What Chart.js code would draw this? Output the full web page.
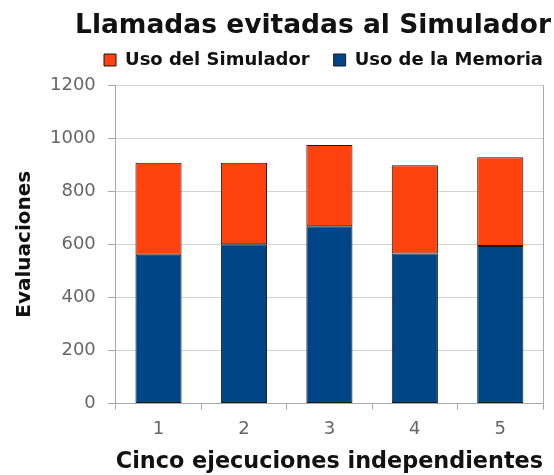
<!DOCTYPE html>
<html>
<head>
<meta charset="utf-8">
<script src="https://cdn.jsdelivr.net/npm/chart.js@4"></script>
<style>
  html, body { margin: 0; padding: 0; background: #fff; }
  #wrap { width: 554px; height: 475px; }
</style>
</head>
<body>
<div id="wrap"><canvas id="llamadas"></canvas></div>
<script>
const ejecuciones = ['1', '2', '3', '4', '5'];
const usoMemoria = [560, 600, 668, 565, 593];
const usoSimulador = [347, 307, 306, 333, 335];
const yTicks = [0, 200, 400, 600, 800, 1000, 1200];

const gris = '#a8a8a8';
const fam = '"DejaVu Sans", sans-serif';

// corre la leyenda un poco respecto a su caja
const ajusteLeyenda = {
  id: 'ajusteLeyenda',
  afterLayout(chart) {
    const lg = chart.legend;
    lg.left += 16; lg.right += 16; lg.top -= 6; lg.bottom -= 6;
  }
};

new Chart(document.getElementById('llamadas'), {
  type: 'bar',
  data: {
    labels: ejecuciones,
    datasets: [
      { label: 'Uso de la Memoria', data: usoMemoria, backgroundColor: '#004586', borderColor: '#1a1a1a', borderWidth: 1, borderSkipped: false, barPercentage: 0.54, categoryPercentage: 1 },
      { label: 'Uso del Simulador', data: usoSimulador, backgroundColor: '#ff420e', borderColor: '#1a1a1a', borderWidth: 1, borderSkipped: false, barPercentage: 0.54, categoryPercentage: 1 }
    ]
  },
  options: {
    responsive: true, maintainAspectRatio: false, animation: false,
    layout: { padding: { left: 3, right: 3, top: 0, bottom: 0 } },
    plugins: {
      title: { display: true, text: 'Llamadas evitadas al Simulador', align: 'end', color: '#111', font: { family: fam, size: 26.5, weight: 'bold' }, padding: { top: 10.5, bottom: -9.3 } },
      legend: { reverse: true, align: 'end', labels: { boxWidth: 12, boxHeight: 12, padding: 24, color: '#111', font: { family: fam, size: 18, weight: 'bold' } } },
      tooltip: { enabled: false }
    },
    scales: {
      x: {
        stacked: true,
        grid: { offset: true, drawOnChartArea: false, color: gris, tickLength: 6 },
        border: { color: gris },
        ticks: { color: '#666', font: { family: fam, size: 18 }, padding: 8.7 },
        title: { display: true, text: 'Cinco ejecuciones independientes', color: '#111', font: { family: fam, size: 22.5, weight: 'bold' }, padding: { top: 0.5, bottom: -1 } }
      },
      y: {
        stacked: true, min: 0, max: 1200,
        afterBuildTicks: ax => { ax.ticks = yTicks.map(v => ({ value: v })); },
        grid: { color: '#d2d2d2', tickColor: gris, tickLength: 8 },
        border: { color: gris },
        ticks: { color: '#666', font: { family: fam, size: 18 }, padding: 12, callback: v => String(v) },
        title: { display: true, text: 'Evaluaciones', color: '#111', font: { family: fam, size: 20, weight: 'bold' }, padding: { top: 10, bottom: 1 } }
      },
      borde: {
        position: 'right', display: true,
        grid: { display: false }, ticks: { display: false },
        border: { color: gris }
      }
    }
  },
  plugins: [ajusteLeyenda]
});
</script>
</body>
</html>
